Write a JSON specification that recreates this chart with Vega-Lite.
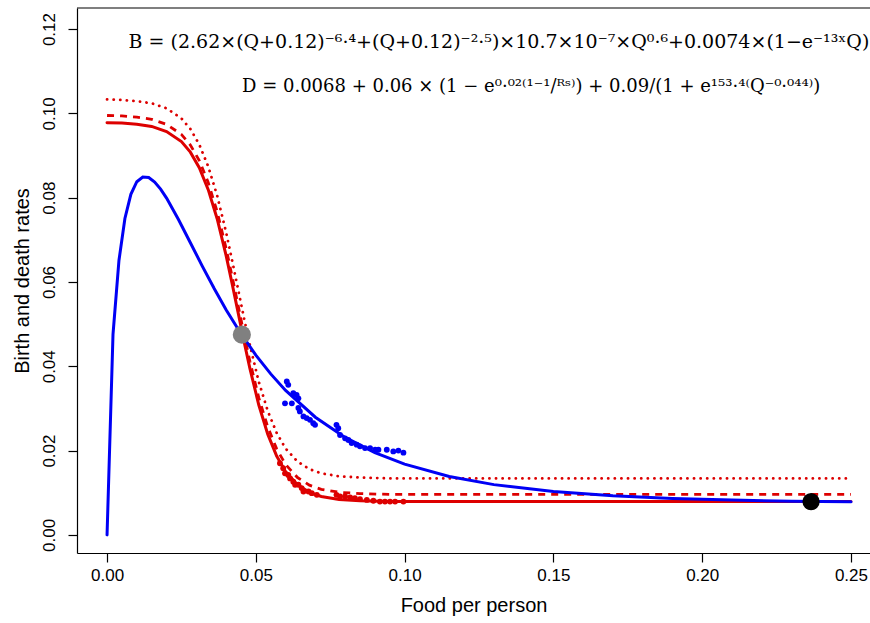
{
  "$schema": "https://vega.github.io/schema/vega-lite/v6.json",
  "width": 793,
  "height": 545,
  "autosize": {"type": "none"},
  "padding": {"left": 77, "top": 8, "right": 0, "bottom": 70},
  "background": "white",
  "config": {
    "view": {"stroke": null},
    "axis": {
      "domainColor": "black", "tickColor": "black", "labelColor": "black", "titleColor": "black",
      "labelFont": "Liberation Sans", "titleFont": "Liberation Sans",
      "labelFontSize": 17, "titleFontSize": 20, "titleFontWeight": "normal",
      "grid": false, "tickSize": 9, "domainWidth": 1.2, "tickWidth": 1.2,
      "labelFlush": false, "labelOverlap": false
    }
  },
  "datasets": {
    "curves": [
      {"Q": 0, "rate": 0, "curve": "B"},
      {"Q": 0.002, "rate": 0.04758, "curve": "B"},
      {"Q": 0.004, "rate": 0.06510, "curve": "B"},
      {"Q": 0.006, "rate": 0.07507, "curve": "B"},
      {"Q": 0.008, "rate": 0.08079, "curve": "B"},
      {"Q": 0.010, "rate": 0.08379, "curve": "B"},
      {"Q": 0.012, "rate": 0.08491, "curve": "B"},
      {"Q": 0.014, "rate": 0.08477, "curve": "B"},
      {"Q": 0.016, "rate": 0.08372, "curve": "B"},
      {"Q": 0.018, "rate": 0.08202, "curve": "B"},
      {"Q": 0.020, "rate": 0.07989, "curve": "B"},
      {"Q": 0.024, "rate": 0.07482, "curve": "B"},
      {"Q": 0.028, "rate": 0.06932, "curve": "B"},
      {"Q": 0.032, "rate": 0.06377, "curve": "B"},
      {"Q": 0.036, "rate": 0.05844, "curve": "B"},
      {"Q": 0.040, "rate": 0.05343, "curve": "B"},
      {"Q": 0.045, "rate": 0.04773, "curve": "B"},
      {"Q": 0.050, "rate": 0.04266, "curve": "B"},
      {"Q": 0.055, "rate": 0.03819, "curve": "B"},
      {"Q": 0.060, "rate": 0.03428, "curve": "B"},
      {"Q": 0.070, "rate": 0.02792, "curve": "B"},
      {"Q": 0.080, "rate": 0.02312, "curve": "B"},
      {"Q": 0.090, "rate": 0.01950, "curve": "B"},
      {"Q": 0.100, "rate": 0.01678, "curve": "B"},
      {"Q": 0.115, "rate": 0.01387, "curve": "B"},
      {"Q": 0.130, "rate": 0.01192, "curve": "B"},
      {"Q": 0.150, "rate": 0.01027, "curve": "B"},
      {"Q": 0.170, "rate": 0.00927, "curve": "B"},
      {"Q": 0.190, "rate": 0.00864, "curve": "B"},
      {"Q": 0.210, "rate": 0.00825, "curve": "B"},
      {"Q": 0.230, "rate": 0.00800, "curve": "B"},
      {"Q": 0.250, "rate": 0.00783, "curve": "B"},

      {"Q": 0, "rate": 0.0978, "curve": "D1"},
      {"Q": 0.005, "rate": 0.0977, "curve": "D1"},
      {"Q": 0.010, "rate": 0.0974, "curve": "D1"},
      {"Q": 0.015, "rate": 0.0969, "curve": "D1"},
      {"Q": 0.020, "rate": 0.0957, "curve": "D1"},
      {"Q": 0.025, "rate": 0.0933, "curve": "D1"},
      {"Q": 0.028, "rate": 0.0908, "curve": "D1"},
      {"Q": 0.031, "rate": 0.0871, "curve": "D1"},
      {"Q": 0.034, "rate": 0.0819, "curve": "D1"},
      {"Q": 0.037, "rate": 0.0750, "curve": "D1"},
      {"Q": 0.040, "rate": 0.0663, "curve": "D1"},
      {"Q": 0.042, "rate": 0.0597, "curve": "D1"},
      {"Q": 0.044, "rate": 0.0529, "curve": "D1"},
      {"Q": 0.046, "rate": 0.0460, "curve": "D1"},
      {"Q": 0.048, "rate": 0.0395, "curve": "D1"},
      {"Q": 0.051, "rate": 0.0308, "curve": "D1"},
      {"Q": 0.054, "rate": 0.0239, "curve": "D1"},
      {"Q": 0.057, "rate": 0.0187, "curve": "D1"},
      {"Q": 0.060, "rate": 0.0150, "curve": "D1"},
      {"Q": 0.064, "rate": 0.0119, "curve": "D1"},
      {"Q": 0.068, "rate": 0.0101, "curve": "D1"},
      {"Q": 0.072, "rate": 0.0091, "curve": "D1"},
      {"Q": 0.078, "rate": 0.0084, "curve": "D1"},
      {"Q": 0.085, "rate": 0.0081, "curve": "D1"},
      {"Q": 0.095, "rate": 0.0079, "curve": "D1"},
      {"Q": 0.120, "rate": 0.0079, "curve": "D1"},
      {"Q": 0.250, "rate": 0.0079, "curve": "D1"},

      {"Q": 0, "rate": 0.0995, "curve": "D2"},
      {"Q": 0.005, "rate": 0.0994, "curve": "D2"},
      {"Q": 0.010, "rate": 0.0991, "curve": "D2"},
      {"Q": 0.015, "rate": 0.0986, "curve": "D2"},
      {"Q": 0.020, "rate": 0.0974, "curve": "D2"},
      {"Q": 0.025, "rate": 0.0950, "curve": "D2"},
      {"Q": 0.028, "rate": 0.0925, "curve": "D2"},
      {"Q": 0.031, "rate": 0.0888, "curve": "D2"},
      {"Q": 0.034, "rate": 0.0836, "curve": "D2"},
      {"Q": 0.037, "rate": 0.0767, "curve": "D2"},
      {"Q": 0.040, "rate": 0.0680, "curve": "D2"},
      {"Q": 0.042, "rate": 0.0614, "curve": "D2"},
      {"Q": 0.044, "rate": 0.0546, "curve": "D2"},
      {"Q": 0.046, "rate": 0.0477, "curve": "D2"},
      {"Q": 0.048, "rate": 0.0412, "curve": "D2"},
      {"Q": 0.051, "rate": 0.0325, "curve": "D2"},
      {"Q": 0.054, "rate": 0.0256, "curve": "D2"},
      {"Q": 0.057, "rate": 0.0204, "curve": "D2"},
      {"Q": 0.060, "rate": 0.0167, "curve": "D2"},
      {"Q": 0.064, "rate": 0.0136, "curve": "D2"},
      {"Q": 0.068, "rate": 0.0118, "curve": "D2"},
      {"Q": 0.072, "rate": 0.0108, "curve": "D2"},
      {"Q": 0.078, "rate": 0.0101, "curve": "D2"},
      {"Q": 0.085, "rate": 0.0098, "curve": "D2"},
      {"Q": 0.095, "rate": 0.0096, "curve": "D2"},
      {"Q": 0.120, "rate": 0.0096, "curve": "D2"},
      {"Q": 0.250, "rate": 0.0096, "curve": "D2"},

      {"Q": 0, "rate": 0.1033, "curve": "D3"},
      {"Q": 0.005, "rate": 0.1032, "curve": "D3"},
      {"Q": 0.010, "rate": 0.1029, "curve": "D3"},
      {"Q": 0.015, "rate": 0.1024, "curve": "D3"},
      {"Q": 0.020, "rate": 0.1012, "curve": "D3"},
      {"Q": 0.025, "rate": 0.0988, "curve": "D3"},
      {"Q": 0.028, "rate": 0.0963, "curve": "D3"},
      {"Q": 0.031, "rate": 0.0926, "curve": "D3"},
      {"Q": 0.034, "rate": 0.0874, "curve": "D3"},
      {"Q": 0.037, "rate": 0.0805, "curve": "D3"},
      {"Q": 0.040, "rate": 0.0718, "curve": "D3"},
      {"Q": 0.042, "rate": 0.0652, "curve": "D3"},
      {"Q": 0.044, "rate": 0.0584, "curve": "D3"},
      {"Q": 0.046, "rate": 0.0515, "curve": "D3"},
      {"Q": 0.048, "rate": 0.0450, "curve": "D3"},
      {"Q": 0.051, "rate": 0.0363, "curve": "D3"},
      {"Q": 0.054, "rate": 0.0294, "curve": "D3"},
      {"Q": 0.057, "rate": 0.0242, "curve": "D3"},
      {"Q": 0.060, "rate": 0.0205, "curve": "D3"},
      {"Q": 0.064, "rate": 0.0174, "curve": "D3"},
      {"Q": 0.068, "rate": 0.0156, "curve": "D3"},
      {"Q": 0.072, "rate": 0.0146, "curve": "D3"},
      {"Q": 0.078, "rate": 0.0139, "curve": "D3"},
      {"Q": 0.085, "rate": 0.0136, "curve": "D3"},
      {"Q": 0.095, "rate": 0.0134, "curve": "D3"},
      {"Q": 0.120, "rate": 0.0134, "curve": "D3"},
      {"Q": 0.250, "rate": 0.0134, "curve": "D3"}
    ],
    "obs": [
      {"Q": 0.0604, "rate": 0.0364, "kind": "birth"},
      {"Q": 0.0609, "rate": 0.0356, "kind": "birth"},
      {"Q": 0.0598, "rate": 0.0312, "kind": "birth"},
      {"Q": 0.0621, "rate": 0.0312, "kind": "birth"},
      {"Q": 0.0626, "rate": 0.0336, "kind": "birth"},
      {"Q": 0.0637, "rate": 0.0332, "kind": "birth"},
      {"Q": 0.0643, "rate": 0.0324, "kind": "birth"},
      {"Q": 0.0643, "rate": 0.0301, "kind": "birth"},
      {"Q": 0.0648, "rate": 0.0293, "kind": "birth"},
      {"Q": 0.0660, "rate": 0.0281, "kind": "birth"},
      {"Q": 0.0671, "rate": 0.0277, "kind": "birth"},
      {"Q": 0.0682, "rate": 0.0273, "kind": "birth"},
      {"Q": 0.0693, "rate": 0.0265, "kind": "birth"},
      {"Q": 0.0699, "rate": 0.0261, "kind": "birth"},
      {"Q": 0.0771, "rate": 0.0261, "kind": "birth"},
      {"Q": 0.0777, "rate": 0.0253, "kind": "birth"},
      {"Q": 0.0783, "rate": 0.0237, "kind": "birth"},
      {"Q": 0.0800, "rate": 0.0229, "kind": "birth"},
      {"Q": 0.0811, "rate": 0.0225, "kind": "birth"},
      {"Q": 0.0822, "rate": 0.0218, "kind": "birth"},
      {"Q": 0.0839, "rate": 0.0214, "kind": "birth"},
      {"Q": 0.0850, "rate": 0.0210, "kind": "birth"},
      {"Q": 0.0867, "rate": 0.0206, "kind": "birth"},
      {"Q": 0.0884, "rate": 0.0206, "kind": "birth"},
      {"Q": 0.0901, "rate": 0.0202, "kind": "birth"},
      {"Q": 0.0912, "rate": 0.0202, "kind": "birth"},
      {"Q": 0.0940, "rate": 0.0202, "kind": "birth"},
      {"Q": 0.0962, "rate": 0.0198, "kind": "birth"},
      {"Q": 0.0979, "rate": 0.0200, "kind": "birth"},
      {"Q": 0.0996, "rate": 0.0195, "kind": "birth"},
      {"Q": 0.0581, "rate": 0.0170, "kind": "death"},
      {"Q": 0.0592, "rate": 0.0158, "kind": "death"},
      {"Q": 0.0598, "rate": 0.0146, "kind": "death"},
      {"Q": 0.0609, "rate": 0.0142, "kind": "death"},
      {"Q": 0.0615, "rate": 0.0134, "kind": "death"},
      {"Q": 0.0626, "rate": 0.0126, "kind": "death"},
      {"Q": 0.0632, "rate": 0.0119, "kind": "death"},
      {"Q": 0.0643, "rate": 0.0119, "kind": "death"},
      {"Q": 0.0654, "rate": 0.0111, "kind": "death"},
      {"Q": 0.0660, "rate": 0.0103, "kind": "death"},
      {"Q": 0.0677, "rate": 0.0103, "kind": "death"},
      {"Q": 0.0688, "rate": 0.0099, "kind": "death"},
      {"Q": 0.0705, "rate": 0.0095, "kind": "death"},
      {"Q": 0.0771, "rate": 0.0095, "kind": "death"},
      {"Q": 0.0783, "rate": 0.0091, "kind": "death"},
      {"Q": 0.0800, "rate": 0.0091, "kind": "death"},
      {"Q": 0.0817, "rate": 0.0089, "kind": "death"},
      {"Q": 0.0833, "rate": 0.0087, "kind": "death"},
      {"Q": 0.0850, "rate": 0.0085, "kind": "death"},
      {"Q": 0.0873, "rate": 0.0083, "kind": "death"},
      {"Q": 0.0895, "rate": 0.0081, "kind": "death"},
      {"Q": 0.0917, "rate": 0.0079, "kind": "death"},
      {"Q": 0.0934, "rate": 0.0079, "kind": "death"},
      {"Q": 0.0951, "rate": 0.0079, "kind": "death"},
      {"Q": 0.0968, "rate": 0.0079, "kind": "death"},
      {"Q": 0.0996, "rate": 0.0079, "kind": "death"}
    ],
    "equilibria": [
      {"Q": 0.0453, "rate": 0.0475, "kind": "unstable"},
      {"Q": 0.2366, "rate": 0.0079, "kind": "stable"}
    ],
    "eqs": [
      {"Q": 0.1317, "rate": 0.1170, "line": "B", "label": "B = (2.62×(Q+0.12)⁻⁶·⁴+(Q+0.12)⁻²·⁵)×10.7×10⁻⁷×Q⁰·⁶+0.0074×(1−e⁻¹³ˣQ)"},
      {"Q": 0.1425, "rate": 0.1063, "line": "D", "label": "D = 0.0068 + 0.06 × (1 − e⁰·⁰²⁽¹⁻¹/ᴿˢ⁾) + 0.09/(1 + e¹⁵³·⁴⁽Q⁻⁰·⁰⁴⁴⁾)"}
    ],
    "frame": [
      {"rate": 0.1250}
    ]
  },
  "encoding": {
    "x": {
      "field": "Q", "type": "quantitative",
      "scale": {"domain": [-0.0101, 0.2564], "nice": false, "zero": false},
      "axis": {"values": [0, 0.05, 0.1, 0.15, 0.2, 0.25], "format": ".2f", "title": "Food per person", "labelPadding": 5, "titlePadding": 12}
    },
    "y": {
      "field": "rate", "type": "quantitative",
      "scale": {"domain": [-0.0043, 0.1250], "nice": false, "zero": false},
      "axis": {"values": [0, 0.02, 0.04, 0.06, 0.08, 0.1, 0.12], "format": ".2f", "title": "Birth and death rates", "labelAngle": -90, "labelAlign": "center", "labelBaseline": "alphabetic", "labelPadding": 14, "titlePadding": 8}
    }
  },
  "layer": [
    {
      "data": {"name": "frame"},
      "mark": {"type": "rule", "color": "black", "strokeWidth": 1.2},
      "encoding": {"x": null}
    },
    {
      "data": {"name": "curves"},
      "transform": [{"filter": "datum.curve === 'D3'"}],
      "mark": {"type": "line", "color": "#DD0000", "strokeWidth": 2.8, "strokeDash": [0.1, 6.5], "strokeCap": "round", "clip": true}
    },
    {
      "data": {"name": "curves"},
      "transform": [{"filter": "datum.curve === 'D2'"}],
      "mark": {"type": "line", "color": "#DD0000", "strokeWidth": 2.8, "strokeDash": [7, 6], "strokeCap": "butt", "clip": true}
    },
    {
      "data": {"name": "curves"},
      "transform": [{"filter": "datum.curve === 'D1'"}],
      "mark": {"type": "line", "color": "#DD0000", "strokeWidth": 3, "strokeCap": "round", "clip": true}
    },
    {
      "data": {"name": "curves"},
      "transform": [{"filter": "datum.curve === 'B'"}],
      "mark": {"type": "line", "color": "#0000F5", "strokeWidth": 3, "strokeCap": "round", "clip": true}
    },
    {
      "data": {"name": "obs"},
      "transform": [{"filter": "datum.kind === 'birth'"}],
      "mark": {"type": "circle", "color": "#0000F5", "opacity": 1, "size": 34}
    },
    {
      "data": {"name": "obs"},
      "transform": [{"filter": "datum.kind === 'death'"}],
      "mark": {"type": "circle", "color": "#DD0000", "opacity": 1, "size": 34}
    },
    {
      "data": {"name": "equilibria"},
      "transform": [{"filter": "datum.kind === 'unstable'"}],
      "mark": {"type": "circle", "color": "#808080", "opacity": 1, "size": 330}
    },
    {
      "data": {"name": "equilibria"},
      "transform": [{"filter": "datum.kind === 'stable'"}],
      "mark": {"type": "circle", "color": "#000000", "opacity": 1, "size": 300}
    },
    {
      "data": {"name": "eqs"},
      "transform": [{"filter": "datum.line === 'B'"}],
      "mark": {"type": "text", "font": "DejaVu Serif", "fontSize": 19, "align": "center", "baseline": "middle", "color": "black"},
      "encoding": {"text": {"field": "label"}}
    },
    {
      "data": {"name": "eqs"},
      "transform": [{"filter": "datum.line === 'D'"}],
      "mark": {"type": "text", "font": "DejaVu Serif", "fontSize": 18, "align": "center", "baseline": "middle", "color": "black"},
      "encoding": {"text": {"field": "label"}}
    }
  ]
}
